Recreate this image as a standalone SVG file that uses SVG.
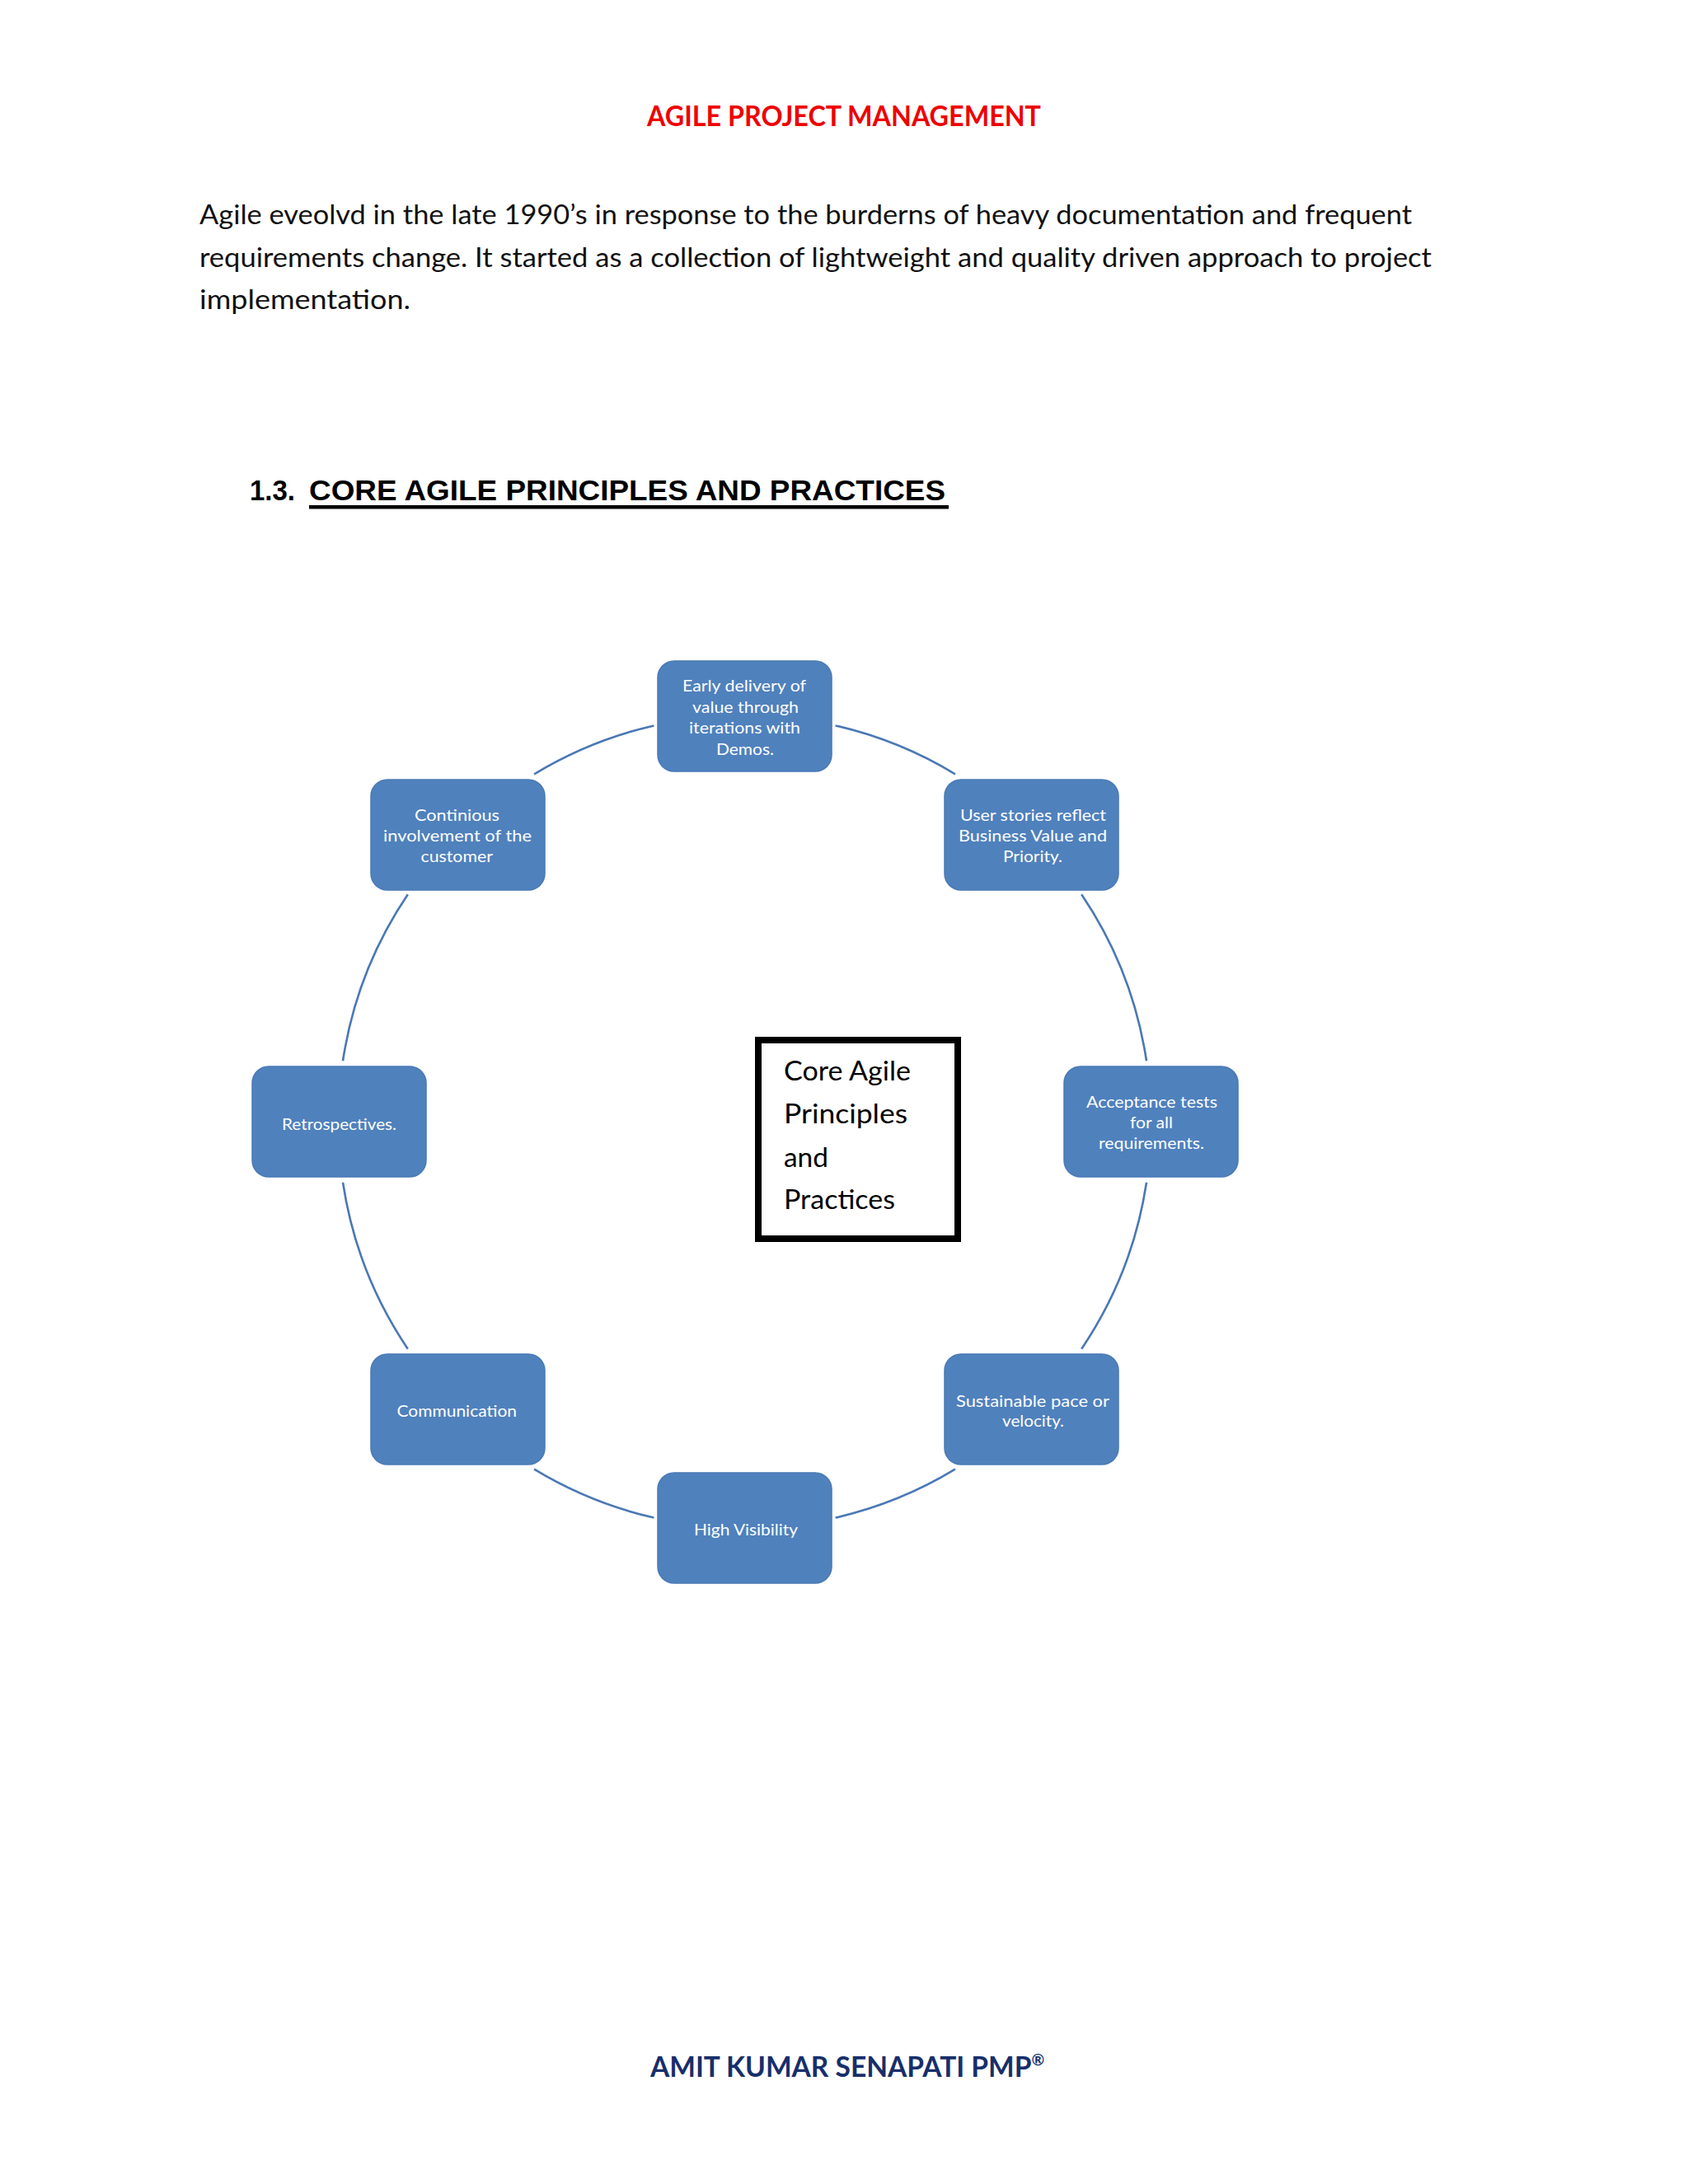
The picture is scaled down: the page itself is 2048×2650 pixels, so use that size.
<svg xmlns="http://www.w3.org/2000/svg" width="2048" height="2650" viewBox="0 0 2048 2650">
<style>
.bx{fill:#4f81bd;stroke:#4a7ab5;stroke-width:1.5}
.bt{font-family:Lato,"Open Sans","DejaVu Sans",sans-serif;font-size:20px;fill:#ffffff;text-anchor:start}
.arc{fill:none;stroke:#4a78b5;stroke-width:2.6}
.para{font-family:Lato,"Open Sans",sans-serif;font-size:32px;fill:#111111}
.core{font-family:Lato,"Open Sans",sans-serif;font-size:33.5px;fill:#000000}
</style>
<rect width="2048" height="2650" fill="#ffffff"/>
<text x="785" y="153" font-family="Lato,'Open Sans',sans-serif" font-weight="bold" font-size="33.5" fill="#ee0000" textLength="478" lengthAdjust="spacingAndGlyphs">AGILE PROJECT MANAGEMENT</text>
<text class="para" x="242" y="272" textLength="1471" lengthAdjust="spacingAndGlyphs">Agile eveolvd in the late 1990’s in response to the burderns of heavy documentation and frequent</text>
<text class="para" x="242" y="324" textLength="1495" lengthAdjust="spacingAndGlyphs">requirements change. It started as a  collection of lightweight and quality driven approach to project</text>
<text class="para" x="242" y="375" textLength="256" lengthAdjust="spacingAndGlyphs">implementation.</text>
<text x="303" y="607" font-family="'Liberation Sans',Arial,sans-serif" font-weight="bold" font-size="35" fill="#000000" textLength="55" lengthAdjust="spacingAndGlyphs">1.3.</text>
<text x="375" y="607" font-family="'Liberation Sans',Arial,sans-serif" font-weight="bold" font-size="35" fill="#000000" textLength="772" lengthAdjust="spacingAndGlyphs">CORE AGILE PRINCIPLES AND PRACTICES</text>
<rect x="375" y="613" width="776" height="4.5" fill="#000000"/>

<g id="connectors">
<path class="arc" d="M1013.6 880.4 A493 493 0 0 1 1158.9 939.3"/>
<path class="arc" d="M1312.2 1085.3 A493 493 0 0 1 1391.0 1287.3"/>
<path class="arc" d="M1391.0 1434.7 A493 493 0 0 1 1312.2 1636.7"/>
<path class="arc" d="M1158.9 1782.7 A493 493 0 0 1 1013.6 1841.6"/>
<path class="arc" d="M793.4 1841.6 A493 493 0 0 1 648.1 1782.7"/>
<path class="arc" d="M494.8 1636.7 A493 493 0 0 1 416.0 1434.7"/>
<path class="arc" d="M416.0 1287.3 A493 493 0 0 1 494.8 1085.3"/>
<path class="arc" d="M648.1 939.3 A493 493 0 0 1 793.4 880.4"/>
</g>

<g id="node-early">
<rect class="bx" x="798" y="802" width="211" height="134" rx="20"/>
<text class="bt" x="828" y="839" textLength="150" lengthAdjust="spacingAndGlyphs">Early  delivery  of</text>
<text class="bt" x="840" y="864.5" textLength="129" lengthAdjust="spacingAndGlyphs">value through</text>
<text class="bt" x="836" y="890" textLength="135" lengthAdjust="spacingAndGlyphs">iterations  with</text>
<text class="bt" x="869" y="915.5" textLength="70" lengthAdjust="spacingAndGlyphs">Demos.</text>
</g>
<g id="node-userstories">
<rect class="bx" x="1146" y="946" width="211" height="134" rx="20"/>
<text class="bt" x="1165" y="996" textLength="177" lengthAdjust="spacingAndGlyphs">User stories reflect</text>
<text class="bt" x="1163" y="1021" textLength="180" lengthAdjust="spacingAndGlyphs">Business Value and</text>
<text class="bt" x="1217" y="1046" textLength="72" lengthAdjust="spacingAndGlyphs">Priority.</text>
</g>
<g id="node-acceptance">
<rect class="bx" x="1291" y="1294" width="211" height="134" rx="20"/>
<text class="bt" x="1318" y="1344" textLength="159" lengthAdjust="spacingAndGlyphs">Acceptance  tests</text>
<text class="bt" x="1371" y="1369" textLength="52" lengthAdjust="spacingAndGlyphs">for all</text>
<text class="bt" x="1333" y="1394" textLength="128" lengthAdjust="spacingAndGlyphs">requirements.</text>
</g>
<g id="node-sustainable">
<rect class="bx" x="1146" y="1643" width="211" height="134" rx="20"/>
<text class="bt" x="1160" y="1706.5" textLength="186" lengthAdjust="spacingAndGlyphs">Sustainable  pace or</text>
<text class="bt" x="1216" y="1731" textLength="75" lengthAdjust="spacingAndGlyphs">velocity.</text>
</g>
<g id="node-visibility">
<rect class="bx" x="798" y="1787" width="211" height="134" rx="20"/>
<text class="bt" x="842" y="1863" textLength="126" lengthAdjust="spacingAndGlyphs">High Visibility</text>
</g>
<g id="node-communication">
<rect class="bx" x="450" y="1643" width="211" height="134" rx="20"/>
<text class="bt" x="481.5" y="1719" textLength="145.5" lengthAdjust="spacingAndGlyphs">Communication</text>
</g>
<g id="node-retrospectives">
<rect class="bx" x="306" y="1294" width="211" height="134" rx="20"/>
<text class="bt" x="342" y="1371" textLength="139" lengthAdjust="spacingAndGlyphs">Retrospectives.</text>
</g>
<g id="node-continious">
<rect class="bx" x="450" y="946" width="211" height="134" rx="20"/>
<text class="bt" x="503" y="996" textLength="103" lengthAdjust="spacingAndGlyphs">Continious</text>
<text class="bt" x="465" y="1021" textLength="180" lengthAdjust="spacingAndGlyphs">involvement  of the</text>
<text class="bt" x="510.5" y="1046" textLength="87.5" lengthAdjust="spacingAndGlyphs">customer</text>
</g>

<g id="node-core">
<rect x="920" y="1262" width="242" height="241" fill="#ffffff" stroke="#000000" stroke-width="8"/>
<text class="core" x="951" y="1311" textLength="154" lengthAdjust="spacingAndGlyphs">Core Agile</text>
<text class="core" x="951" y="1363" textLength="150" lengthAdjust="spacingAndGlyphs">Principles</text>
<text class="core" x="951" y="1416" textLength="54" lengthAdjust="spacingAndGlyphs">and</text>
<text class="core" x="951" y="1467" textLength="135" lengthAdjust="spacingAndGlyphs">Practices</text>
</g>

<text x="789" y="2520" font-family="Lato,'Open Sans',sans-serif" font-weight="bold" font-size="33.5" fill="#172f6b">AMIT KUMAR SENAPATI PMP<tspan font-size="19" dy="-14">®</tspan></text>
</svg>
